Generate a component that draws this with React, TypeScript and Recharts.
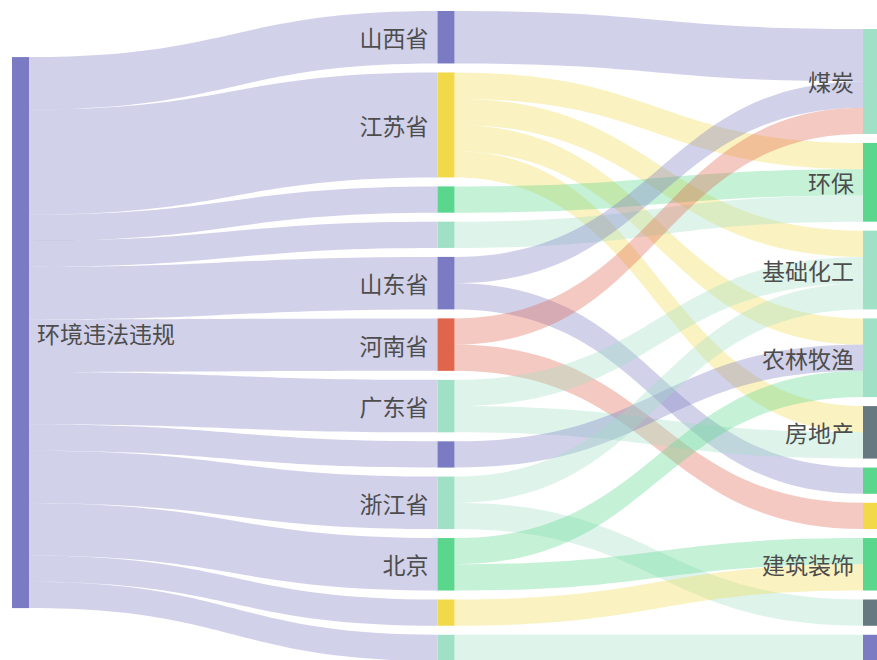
import { Sankey } from "recharts";

const rootName = "环境违法违规";
const provinceNames = ["山西省", "江苏省", "", "", "山东省", "河南省", "广东省", "", "浙江省", "北京", "", ""];
const provinceValues = [2, 4, 1, 1, 2, 2, 2, 1, 2, 2, 1, 1];
const industryNames = ["煤炭", "环保", "基础化工", "农林牧渔", "房地产", "", "", "建筑装饰", "", ""];
// [province index, industry index, value]
const flows: [number, number, number][] = [
  [0, 0, 2],
  [1, 1, 1], [1, 2, 1], [1, 3, 1], [1, 4, 1],
  [2, 1, 1],
  [3, 1, 1],
  [4, 0, 1], [4, 5, 1],
  [5, 0, 1], [5, 6, 1],
  [6, 2, 1], [6, 4, 1],
  [7, 3, 1],
  [8, 2, 1], [8, 8, 1],
  [9, 3, 1], [9, 7, 1],
  [10, 7, 1],
  [11, 9, 1],
];

const PURPLE = "#7a7bc2";
const YELLOW = "#f2d94a";
const GREEN = "#5ad68d";
const TEAL = "#a0e0c6";
const RED = "#e0654d";
const GRAY = "#667880";

const rootColor = PURPLE;
const provinceColors = [PURPLE, YELLOW, GREEN, TEAL, PURPLE, RED, TEAL, PURPLE, TEAL, GREEN, YELLOW, TEAL];
const industryColors = [TEAL, GREEN, TEAL, TEAL, GRAY, GREEN, YELLOW, GREEN, GRAY, PURPLE];

const nodes = [
  { name: rootName, color: rootColor },
  ...provinceNames.map((name, i) => ({ name, color: provinceColors[i] })),
  ...industryNames.map((name, i) => ({ name, color: industryColors[i] })),
];
const industryStart = 1 + provinceNames.length;
const links = [
  ...provinceValues.map((value, i) => ({ source: 0, target: 1 + i, value })),
  ...flows.map(([p, ind, value]) => ({ source: 1 + p, target: industryStart + ind, value })),
];

const LABEL_FONT = '"Noto Sans CJK SC", "Noto Sans", sans-serif';

function SankeyNode(props: any) {
  const { x, y, width, height, payload } = props;
  const isRoot = payload.depth === 0;
  return (
    <g>
      <rect x={x} y={y} width={width} height={height} fill={payload.color} />
      {payload.name && (
        <text
          x={isRoot ? x + width + 8 : x - 9}
          y={y + height / 2}
          textAnchor={isRoot ? "start" : "end"}
          dominantBaseline="central"
          fontSize={23}
          fontFamily={LABEL_FONT}
          fill="#4d4d4d"
        >
          {payload.name}
        </text>
      )}
    </g>
  );
}

function SankeyLink(props: any) {
  const { sourceX, sourceY, targetX, targetY, sourceControlX, targetControlX, linkWidth, payload } = props;
  const h = linkWidth / 2;
  const d = `M${sourceX},${sourceY - h} C${sourceControlX},${sourceY - h} ${targetControlX},${targetY - h} ${targetX},${targetY - h} L${targetX},${targetY + h} C${targetControlX},${targetY + h} ${sourceControlX},${sourceY + h} ${sourceX},${sourceY + h} Z`;
  return <path d={d} fill={payload.source.color} fillOpacity={0.35} stroke="none" />;
}

export default function App() {
  return (
    <div
      style={{
        position: "fixed",
        top: 0,
        left: 0,
        width: 877,
        height: 660,
        overflow: "hidden",
        background: "#fff",
      }}
    >
      <Sankey
        width={880}
        height={661}
        data={{ nodes, links }}
        nodeWidth={17}
        nodePadding={9}
        linkCurvature={0.5}
        iterations={32}
        sort={false}
        margin={{ top: 11, left: 12, right: 0, bottom: 0 }}
        node={(p: any) => <SankeyNode {...p} />}
        link={(p: any) => <SankeyLink {...p} />}
      />
    </div>
  );
}
